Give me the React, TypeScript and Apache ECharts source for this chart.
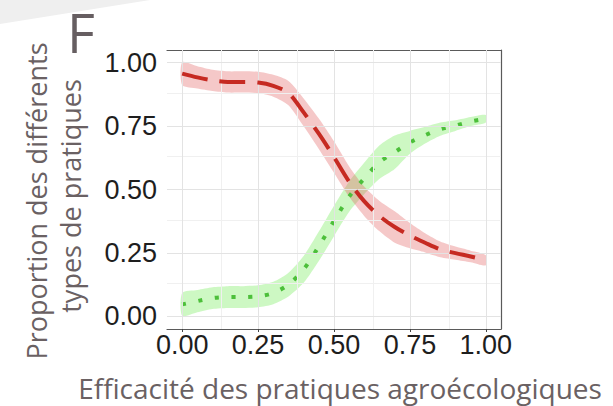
import React, { useEffect, useRef } from "react";
import * as echarts from "echarts";

// Efficacité des pratiques (x) and the fitted proportions with their confidence bands
const efficacite = [0, 0.05, 0.1, 0.15, 0.2, 0.25, 0.3, 0.35, 0.4, 0.45, 0.5, 0.55, 0.6, 0.65, 0.7, 0.75, 0.8, 0.85, 0.9, 0.95, 1.0];

const rougeMoy = [0.957, 0.942, 0.930, 0.924, 0.924, 0.922, 0.909, 0.880, 0.804, 0.720, 0.628, 0.531, 0.453, 0.395, 0.352, 0.318, 0.290, 0.264, 0.249, 0.236, 0.221];
const rougeHaut = [1.002, 0.986, 0.972, 0.966, 0.966, 0.964, 0.952, 0.928, 0.859, 0.780, 0.690, 0.591, 0.511, 0.455, 0.414, 0.368, 0.328, 0.295, 0.275, 0.259, 0.241];
const rougeBas = [0.912, 0.898, 0.888, 0.882, 0.882, 0.880, 0.866, 0.832, 0.749, 0.660, 0.566, 0.471, 0.395, 0.335, 0.290, 0.268, 0.252, 0.233, 0.223, 0.213, 0.201];

const vertMoy = [0.047, 0.060, 0.072, 0.076, 0.076, 0.079, 0.092, 0.125, 0.185, 0.276, 0.376, 0.472, 0.544, 0.608, 0.647, 0.686, 0.714, 0.738, 0.752, 0.768, 0.779];
const vertHaut = [0.092, 0.104, 0.115, 0.119, 0.119, 0.122, 0.136, 0.172, 0.238, 0.334, 0.436, 0.532, 0.606, 0.674, 0.713, 0.731, 0.747, 0.764, 0.773, 0.786, 0.794];
const vertBas = [0.002, 0.016, 0.029, 0.033, 0.033, 0.036, 0.048, 0.078, 0.132, 0.218, 0.316, 0.412, 0.482, 0.542, 0.581, 0.641, 0.681, 0.712, 0.731, 0.750, 0.764];

const ticks = [0, 0.25, 0.5, 0.75, 1];
const minorTicks = [0.125, 0.375, 0.625, 0.875];

const AXIS_FONT = "'Liberation Sans', Arial, sans-serif";
const TITLE_FONT = "'Open Sans', sans-serif";
const TITLE_COLOR = "#6a6163";

function bandSeries(haut: number[], bas: number[], fill: string, z: number) {
  return {
    type: "custom",
    z,
    silent: true,
    data: [[0, 0]],
    renderItem: (_params: any, api: any) => {
      const top = efficacite.map((x, i) => api.coord([x, haut[i]]));
      const bottom = efficacite.map((x, i) => api.coord([x, bas[i]])).reverse();
      return {
        type: "polygon",
        shape: { points: top.concat(bottom), smooth: 0.25 },
        style: { fill },
      };
    },
  };
}

export default function App() {
  const ref = useRef<HTMLDivElement>(null);

  useEffect(() => {
    if (!ref.current) return;
    const chart = echarts.init(ref.current, null, { renderer: "svg" });
    const fmt = (v: number) => v.toFixed(2);

    chart.setOption({
      animation: false,
      backgroundColor: "#ffffff",
      grid: { left: 167, right: 112, top: 50, bottom: 77, outerBoundsMode: "none" },
      xAxis: [
        {
          type: "value",
          min: -0.05,
          max: 1.05,
          position: "bottom",
          axisLine: { show: true, onZero: false, lineStyle: { color: "#5a5a5a", width: 1.2 } },
          axisTick: { show: true, customValues: ticks, length: 3, lineStyle: { color: "#444" } },
          axisLabel: {
            customValues: ticks,
            formatter: fmt,
            fontFamily: AXIS_FONT,
            fontSize: 27,
            color: "#1e1e1e",
            margin: 2,
          },
          splitLine: { show: false },
        },
        {
          type: "value",
          min: -0.05,
          max: 1.05,
          position: "top",
          axisLine: { show: true, onZero: false, lineStyle: { color: "#5a5a5a", width: 1.2 } },
          axisTick: { show: false },
          axisLabel: { show: false },
          splitLine: { show: false },
        },
      ],
      yAxis: [
        {
          type: "value",
          min: -0.05,
          max: 1.05,
          position: "left",
          axisLine: { show: false },
          axisTick: { show: true, customValues: ticks, length: 3, lineStyle: { color: "#444" } },
          axisLabel: {
            customValues: ticks,
            formatter: fmt,
            fontFamily: AXIS_FONT,
            fontSize: 27,
            color: "#1e1e1e",
            margin: 10,
          },
          splitLine: { show: false },
        },
        {
          type: "value",
          min: -0.05,
          max: 1.05,
          position: "right",
          axisLine: { show: true, onZero: false, lineStyle: { color: "#5a5a5a", width: 1.2 } },
          axisTick: { show: false },
          axisLabel: { show: false },
          splitLine: { show: false },
        },
      ],
      graphic: [
        {
          type: "polygon",
          z: -10,
          shape: { points: [[0, 0], [150, 0], [0, 24]] },
          style: { fill: "#efefef" },
        },
        {
          type: "text",
          x: 67,
          y: 32,
          style: {
            text: "F",
            font: `54px ${TITLE_FONT}`,
            lineHeight: 46,
            fill: "#665e61",
            align: "left",
            verticalAlign: "middle",
          },
        },
        {
          type: "text",
          x: 36,
          y: 201,
          rotation: Math.PI / 2,
          style: {
            text: "Proportion des différents",
            font: `27px ${TITLE_FONT}`,
            fill: TITLE_COLOR,
            align: "center",
            verticalAlign: "middle",
          },
        },
        {
          type: "text",
          x: 70,
          y: 196,
          rotation: Math.PI / 2,
          style: {
            text: "types de pratiques",
            font: `27px ${TITLE_FONT}`,
            fill: TITLE_COLOR,
            align: "center",
            verticalAlign: "middle",
          },
        },
        {
          type: "text",
          x: 340,
          y: 388,
          style: {
            text: "Efficacité des pratiques agroécologiques",
            font: `28px ${TITLE_FONT}`,
            fill: TITLE_COLOR,
            align: "center",
            verticalAlign: "middle",
          },
        },
      ],
      series: [
        {
          // panel grid (major and minor lines)
          type: "line",
          data: [],
          z: 0,
          silent: true,
          markLine: {
            silent: true,
            symbol: ["none", "none"],
            label: { show: false },
            animation: false,
            data: [
              ...minorTicks.map((v) => ({ xAxis: v, lineStyle: { color: "#f0f0f0", width: 1, type: "solid" } })),
              ...minorTicks.map((v) => ({ yAxis: v, lineStyle: { color: "#f0f0f0", width: 1, type: "solid" } })),
              ...ticks.map((v) => ({ xAxis: v, lineStyle: { color: "#e3e3e3", width: 1, type: "solid" } })),
              ...ticks.map((v) => ({ yAxis: v, lineStyle: { color: "#e3e3e3", width: 1, type: "solid" } })),
            ],
          },
        },
        bandSeries(vertHaut, vertBas, "rgba(112,235,84,0.35)", 2),
        bandSeries(rougeHaut, rougeBas, "rgba(226,98,98,0.35)", 3),
        {
          type: "line",
          z: 4,
          data: efficacite.map((x, i) => [x, vertMoy[i]]),
          smooth: 0.3,
          symbol: "none",
          lineStyle: { color: "#4cbf3a", width: 4, type: [4, 12.7] },
        },
        {
          type: "line",
          z: 5,
          data: efficacite.map((x, i) => [x, rougeMoy[i]]),
          smooth: 0.3,
          symbol: "none",
          lineStyle: { color: "#c62a22", width: 4, type: [26, 12] },
        },
      ],
    });

    return () => chart.dispose();
  }, []);

  return <div ref={ref} style={{ width: 613, height: 406, position: "absolute", left: 0, top: 0 }} />;
}
